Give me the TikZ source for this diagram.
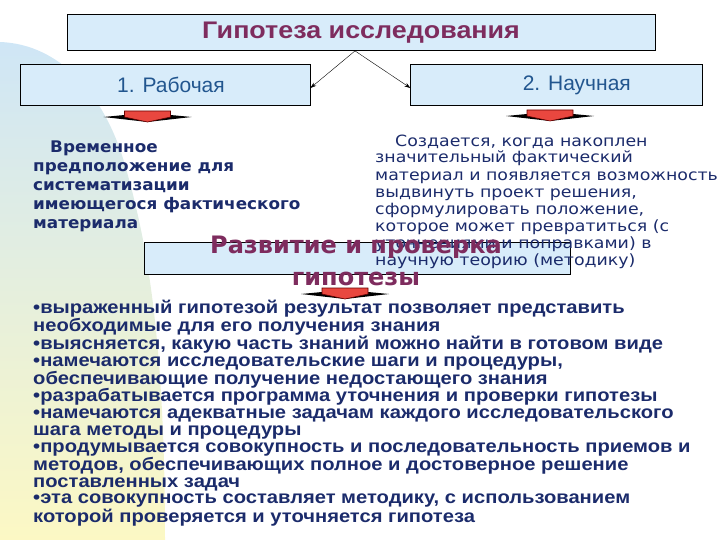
\documentclass[tikz,border=0pt]{standalone}
\usepackage{fontspec}
\setmainfont{Liberation Sans}
\newfontfamily\verd[FakeStretch=1.12]{DejaVu Sans}
\newfontfamily\verdb[FakeStretch=1.05]{DejaVu Sans}
\newfontfamily\verdn{DejaVu Sans}
\newfontfamily\arialw[FakeStretch=1.12]{Liberation Sans}
\usetikzlibrary{positioning,arrows.meta}

\definecolor{boxfill}{HTML}{D8ECFA}
\definecolor{plum}{HTML}{7E2C5E}
\definecolor{steel}{HTML}{22568F}
\definecolor{navy}{HTML}{1B2B6B}
\definecolor{arrred}{HTML}{E9473F}
\definecolor{bgblue}{HTML}{CFE6F6}
\definecolor{bggreen}{HTML}{E3F1E6}
\definecolor{bgyellow}{HTML}{FCF8C4}

\tikzset{
  hbox/.style={draw, fill=boxfill, line width=0.8pt, inner sep=0pt},
  kind/.style={hbox, minimum width=290pt, minimum height=41pt, text=steel,
    font=\fontsize{21}{21}\selectfont},
  navytext/.style={text=navy, align=left, inner sep=0pt, anchor=base west},
}

% red block arrow with its dark wings: #1 = centre x, #2 = top y
\newcommand{\redarrow}[2]{%
  \fill[black] (#1-44,#2+6) -- (#1-23,#2+4) -- (#1+23,#2+4) -- (#1+44,#2+6) -- (#1,#2+11) -- cycle;
  \filldraw[fill=arrred, draw=black!60!red, line width=0.6pt]
    (#1-23,#2) -- (#1+23,#2) -- (#1+23,#2+6) .. controls (#1+12,#2+9) .. (#1,#2+11)
    .. controls (#1-12,#2+9) .. (#1-23,#2+6) -- cycle;
}

\begin{document}
\begin{tikzpicture}[x=1pt, y=-1pt, >={Stealth[length=6pt, width=4pt]}]
    \useasboundingbox (0,0) rectangle (720,540);

    % background band
    \shade[top color=bgblue, middle color=bggreen, bottom color=bgyellow]
      (0,42) .. controls (60,44) and (105,95) .. (125,165)
      .. controls (145,235) and (165,330) .. (165,540) -- (0,540) -- cycle;

    \node[hbox, minimum width=588pt, minimum height=36pt, text=plum,
          font=\arialw\bfseries\fontsize{24}{24}\selectfont] (hyp) at (361,32.5) {Гипотеза исследования};
    \node[kind] (work) at (165,85) {\hspace*{12pt}1. Рабочая};
    \node[kind, right=100pt of work, minimum width=292pt] (sci) {\hspace*{40pt}2. Научная};

    \draw[->] ([xshift=-6pt]hyp.south) -- ([yshift=-3pt]work.east);
    \draw[->] ([xshift=-6pt]hyp.south) -- ([yshift=-3pt]sci.west);

    \redarrow{147.5}{111}
    \redarrow{550}{110}

    % texts are placed by the baseline of their last line
    \node[navytext, font=\verdb\bfseries\fontsize{16}{19}\selectfont] (worktxt) at (33,229)
      {\hspace*{17pt}Временное\\предположение для\\систематизации\\имеющегося фактического\\материала};

    \node[hbox, minimum width=426pt, minimum height=32pt] (dev) at (357,258) {};

    \node[navytext, font=\verd\fontsize{15.5}{17}\selectfont] (scitxt) at (375,265)
      {\hspace*{20pt}Создается, когда накоплен\\значительный фактический\\материал и появляется возможность\\выдвинуть проект решения,\\сформулировать положение,\\которое может превратиться (с\\уточнениями и поправками) в\\научную теорию (методику)};

    \node[text=plum, align=center, inner sep=0pt, anchor=base,
          font=\verdn\bfseries\fontsize{24}{32}\selectfont] (devtxt) at (356,285)
      {Развитие и проверка\\гипотезы};

    \redarrow{345}{288}

    \node[navytext, font=\arialw\bfseries\fontsize{18}{16.8}\selectfont] (steps) at (33,522)
      {•выраженный гипотезой результат позволяет представить\\
       необходимые для его получения знания\\
       •выясняется, какую часть знаний можно найти в готовом виде\\
       •намечаются исследовательские шаги и процедуры,\\
       обеспечивающие получение недостающего знания\\
       •разрабатывается программа уточнения и проверки гипотезы\\
       •намечаются адекватные задачам каждого исследовательского\\
       шага методы и процедуры\\
       •продумывается совокупность и последовательность приемов и\\
       методов, обеспечивающих полное и достоверное решение\\
       поставленных задач\\
       •эта совокупность составляет методику, с использованием\\
       которой проверяется и уточняется гипотеза};
\end{tikzpicture}
\end{document}
